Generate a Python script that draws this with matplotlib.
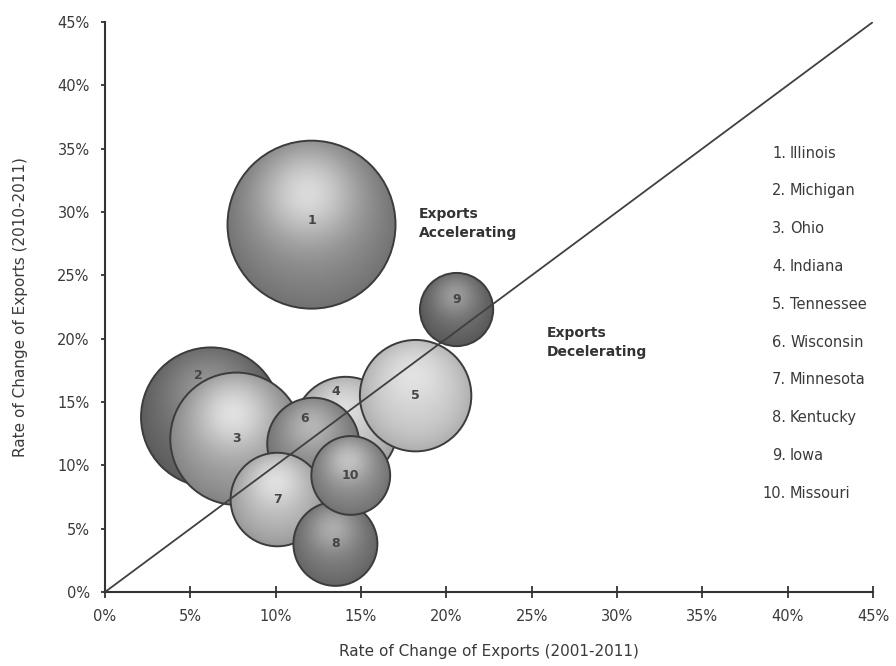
import numpy as np
import matplotlib
matplotlib.use("Agg")
import matplotlib.pyplot as plt
from matplotlib.patches import Circle
from matplotlib.transforms import ScaledTranslation
from matplotlib.ticker import FuncFormatter

# state data: growth 2001-2011 (x), growth 2010-2011 (y), relative export volume (bubble area)
states = ["Illinois", "Michigan", "Ohio", "Indiana", "Tennessee",
          "Wisconsin", "Minnesota", "Kentucky", "Iowa", "Missouri"]
growth_01_11 = [12.1, 6.2, 7.7, 14.1, 18.2, 12.2, 10.1, 13.5, 20.6, 14.4]
growth_10_11 = [29.0, 13.8, 12.1, 12.9, 15.5, 11.7, 7.3, 3.8, 22.3, 9.2]
export_volume = [100, 69, 62, 38, 44, 30, 31, 25, 19, 22]

# bubble shading: base grey and highlight strength
base_grey = [0.52, 0.42, 0.60, 0.74, 0.80, 0.52, 0.70, 0.46, 0.40, 0.52]
glow = [0.70, 0.30, 0.70, 0.50, 0.45, 0.40, 0.60, 0.40, 0.35, 0.50]
# number label offsets (points) where the label sits off-centre
label_shift = {2: (-9, 30), 4: (-7, 27), 6: (-6, 18), 9: (0, 7), 1: (0, 3)}

plt.rcParams['font.family'] = ['DejaVu Sans']
txt = '#3a3a3a'

fig = plt.figure(figsize=(8.96, 6.66), dpi=100)
ax = fig.add_axes([0.1172, 0.1111, 0.8571, 0.8559])
ax.set_xlim(0, 45)
ax.set_ylim(0, 45)

# radial gradient used for every sphere
n = 160
g = np.linspace(-1, 1, n)
gx, gy = np.meshgrid(g, g)
rr = np.sqrt(gx**2 + gy**2)
d_hl = np.sqrt((gx + 0.05)**2 + (gy - 0.38)**2)

r_max = 0.84  # inches for the largest bubble
vmax = max(export_volume)
for i, (x, y, v) in enumerate(zip(growth_01_11, growth_10_11, export_volume)):
    r = r_max * np.sqrt(v / vmax)
    trans = fig.dpi_scale_trans + ScaledTranslation(x, y, ax.transData)
    z = 2 + i * 0.1

    w = glow[i] * np.exp(-(d_hl / 0.6)**2)
    shade = base_grey[i] * (1 - 0.15 * np.clip(rr, 0, 1)**3)
    val = np.clip(shade * (1 - w) + w, 0, 1)
    img = np.dstack([val, val, val])

    circ = Circle((0, 0), r, transform=trans, facecolor='none',
                  edgecolor='#3c3c3c', lw=1.4, zorder=z + 0.05)
    ax.add_patch(circ)
    im = ax.imshow(img, extent=(-r, r, -r, r), origin='lower',
                   transform=trans, aspect='auto', interpolation='bilinear',
                   zorder=z)
    im.set_clip_path(circ)

    dx, dy = label_shift.get(i + 1, (0, 0))
    ax.annotate(str(i + 1), (x, y), xytext=(dx, dy), textcoords='offset points',
                ha='center', va='center', fontsize=9, color='#454545',
                fontweight='bold', zorder=5)

ax.set_xlim(0, 45)
ax.set_ylim(0, 45)
ax.set_aspect('auto')

# y = x reference line
ax.plot([0, 45], [0, 45], color='#404040', lw=1.3, zorder=4)

ax.text(18.4, 29.1, "Exports\nAccelerating", fontsize=10, fontweight='bold',
        color='#333333', va='center', ha='left', linespacing=1.4)
ax.text(25.9, 19.7, "Exports\nDecelerating", fontsize=10, fontweight='bold',
        color='#333333', va='center', ha='left', linespacing=1.4)

# numbered key on the right
for i, name in enumerate(states):
    yk = 0.770 - i * 0.0663
    ax.text(0.887, yk, f"{i + 1}.", transform=ax.transAxes, ha='right',
            va='center', fontsize=10.5, color=txt)
    ax.text(0.892, yk, name, transform=ax.transAxes, ha='left',
            va='center', fontsize=10.5, color=txt)

ticks = np.arange(0, 46, 5)
ax.set_xticks(ticks)
ax.set_yticks(ticks)
pct = FuncFormatter(lambda v, p: f"{v:.0f}%")
ax.xaxis.set_major_formatter(pct)
ax.yaxis.set_major_formatter(pct)
ax.tick_params(axis='x', direction='inout', length=9, width=1.3,
               color='#333333', labelsize=10.5, labelcolor=txt, pad=8)
ax.tick_params(axis='y', direction='out', length=3, width=1.3,
               color='#333333', labelsize=10.5, labelcolor=txt, pad=8)

for s in ['top', 'right']:
    ax.spines[s].set_visible(False)
for s in ['left', 'bottom']:
    ax.spines[s].set_linewidth(1.5)
    ax.spines[s].set_color('#333333')

ax.set_xlabel("Rate of Change of Exports (2001-2011)", fontsize=11, color=txt)
ax.set_ylabel("Rate of Change of Exports (2010-2011)", fontsize=11, color=txt)
ax.xaxis.set_label_coords(0.5, -0.092)
ax.yaxis.set_label_coords(-0.1, 0.5)

fig.savefig("out.png", dpi=100)
